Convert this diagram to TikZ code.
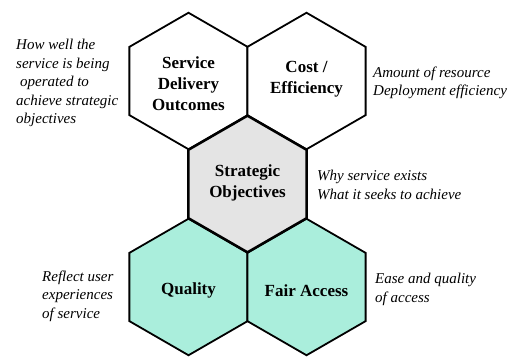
\documentclass[tikz,border=0pt]{standalone}
\usepackage{fontspec}
\setmainfont{Liberation Serif}
\usetikzlibrary{shapes.geometric}
\definecolor{coregray}{RGB}{228,228,228}
\definecolor{usergreen}{RGB}{170,238,220}
\begin{document}
\begin{tikzpicture}[x=1pt,y=-1pt,
  hexcell/.style={regular polygon, regular polygon sides=6, shape border rotate=30,
    minimum size=136.5pt, inner sep=0pt, outer sep=0pt, draw=black, line width=1.8pt,
    line join=miter},
  cellname/.style={align=center, inner sep=0pt,
    font=\fontsize{17}{21}\selectfont\bfseries},
  note/.style={anchor=west, align=left, inner sep=0pt,
    font=\fontsize{15}{18.5}\selectfont\itshape}]
  \useasboundingbox (0,0) rectangle (527,356);
  % top row
  \node[hexcell, fill=white] (sdo) at (188.5,81) {};
  \node[hexcell, fill=white] (cost) at (306.5,81) {};
  % bottom row
  \node[hexcell, fill=usergreen] (qual) at (188.5,287) {};
  \node[hexcell, fill=usergreen] (fair) at (306.5,287) {};
  % centre cell
  \node[hexcell, fill=coregray, line width=2.4pt] (strat) at (247.5,184) {};
  % cell titles
  \node[cellname, yshift=-3pt] (sdo-t) at (sdo.center) {Service\\Delivery\\Outcomes};
  \node[cellname, yshift=2pt] (cost-t) at (cost.center) {Cost /\\Efficiency};
  \node[cellname, yshift=1pt] (strat-t) at (strat.center) {Strategic\\Objectives};
  \node[cellname, yshift=-3.5pt] (qual-t) at (qual.center) {Quality};
  \node[cellname, yshift=-3.5pt] (fair-t) at (fair.center) {Fair Access};
  % explanatory notes
  \node[note] (n1) at (16,83) {How well the\\service is being\\\hspace{4pt}operated to\\achieve strategic\\objectives};
  \node[note] (n2) at (373,83) {Amount of resource\\Deployment efficiency};
  \node[note] (n3) at (317,185) {Why service exists\\What it seeks to achieve};
  \node[note] (n4) at (375,289.5) {Ease and quality\\of access};
  \node[note] (n5) at (42,296) {Reflect user\\experiences\\of service};
\end{tikzpicture}
\end{document}
